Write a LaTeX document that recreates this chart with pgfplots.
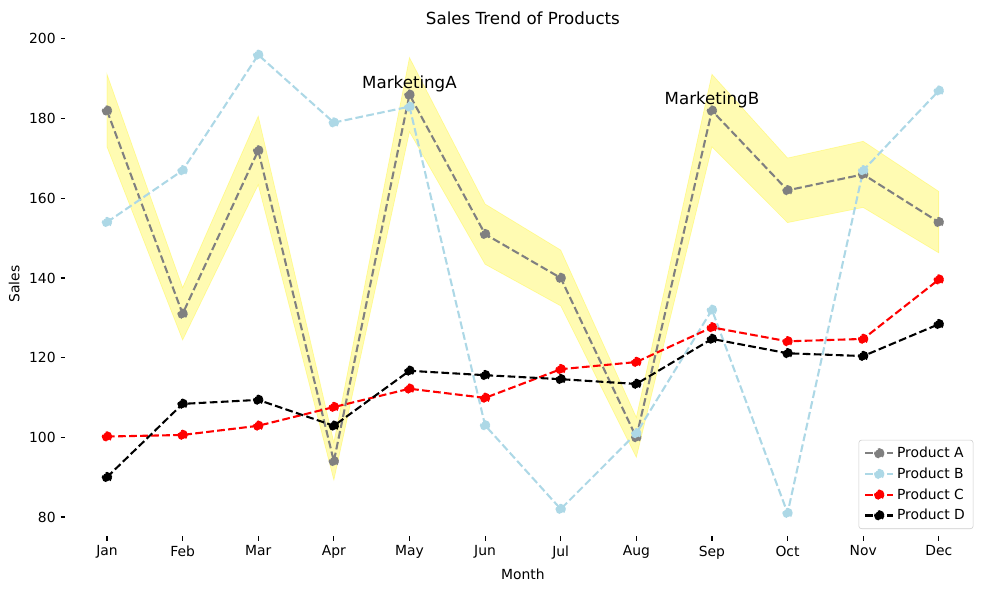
\documentclass[border=0pt]{standalone}
\usepackage{pgfplots}
\pgfplotsset{compat=1.18}
\usepackage{fontspec}
\setmainfont{DejaVu Sans}
\definecolor{mpgray}{RGB}{128,128,128}
\definecolor{mplightblue}{RGB}{173,216,230}
\definecolor{legedge}{RGB}{204,204,204}
\begin{document}
\begin{tikzpicture}
\useasboundingbox (0,0) rectangle (712.1pt,424.8pt);
\begin{axis}[
  at={(47.1pt,38.9pt)}, anchor=south west,
  scale only axis, width=658.8pt, height=362.9pt,
  xmin=-0.55, xmax=11.55, ymin=75.25, ymax=201.75,
  xtick={0,...,11},
  xticklabels={Jan,Feb,Mar,Apr,May,Jun,Jul,Aug,Sep,Oct,Nov,Dec},
  ytick={80,100,...,200},
  axis line style={draw=none},
  tick align=outside, major tick length=3.5pt,
  tick style={black, line width=0.8pt},
  xtick pos=bottom, ytick pos=left,
  /pgf/number format/assume math mode=true,
  tick label style={font=\fontsize{10}{12}\selectfont},
  label style={font=\fontsize{10}{12}\selectfont},
  xlabel={Month}, ylabel={Sales},
  title={Sales Trend of Products},
  title style={font=\fontsize{12}{14}\selectfont, yshift=-4.3pt},
  legend style={at={(1,0)}, anchor=south east, xshift=-5pt, yshift=5pt,
    draw=legedge, rounded corners=2pt, font=\fontsize{10}{12}\selectfont,
    row sep=1.8pt, inner xsep=4pt, inner ysep=3pt,
    /tikz/every even column/.append style={column sep=2pt}},
  legend image code/.code={\draw[mark repeat=2,mark phase=2] plot coordinates {(0pt,0pt) (10pt,0pt) (20pt,0pt)};},
  legend cell align=left,
  every axis plot/.append style={line width=1.5pt, dash pattern=on 5.55pt off 2.4pt,
    mark=*, mark size=3pt, mark options={solid, line width=0.4pt}},
]
% confidence band for Product A (+/- 5%)
\addplot[forget plot, draw=yellow, draw opacity=0.3, fill=yellow, fill opacity=0.3, mark=none, solid, line width=0.5pt] coordinates {
 (0,191.1) (1,137.55) (2,180.6) (3,98.7) (4,195.3) (5,158.55) (6,147) (7,105) (8,191.1) (9,170.1) (10,174.3) (11,161.7)
 (11,146.3) (10,157.7) (9,153.9) (8,172.9) (7,95) (6,133) (5,143.45) (4,176.7) (3,89.3) (2,163.4) (1,124.45) (0,172.9)
} -- cycle;
\addplot[color=mpgray, mark options={fill=mpgray, draw=mpgray}] coordinates {
 (0,182) (1,131) (2,172) (3,94) (4,186) (5,151) (6,140) (7,100) (8,182) (9,162) (10,166) (11,154)};
\addlegendentry{Product A}
\addplot[color=mplightblue, mark options={fill=mplightblue, draw=mplightblue}] coordinates {
 (0,154) (1,167) (2,196) (3,179) (4,183) (5,103) (6,82) (7,101) (8,132) (9,81) (10,167) (11,187)};
\addlegendentry{Product B}
\addplot[color=red, mark options={fill=red, draw=red}] coordinates {
 (0,100.2) (1,100.6) (2,102.9) (3,107.6) (4,112.2) (5,109.9) (6,117.1) (7,118.9) (8,127.6) (9,124.1) (10,124.7) (11,139.6)};
\addlegendentry{Product C}
\addplot[color=black, mark options={fill=black, draw=black}] coordinates {
 (0,90) (1,108.4) (2,109.4) (3,102.9) (4,116.7) (5,115.6) (6,114.6) (7,113.4) (8,124.7) (9,121.1) (10,120.4) (11,128.4)};
\addlegendentry{Product D}
\node[font=\fontsize{12}{14}\selectfont, yshift=7.6pt] at (axis cs:4,186) {MarketingA};
\node[font=\fontsize{12}{14}\selectfont, yshift=7.6pt] at (axis cs:8,182) {MarketingB};
\end{axis}
\end{tikzpicture}
\end{document}
